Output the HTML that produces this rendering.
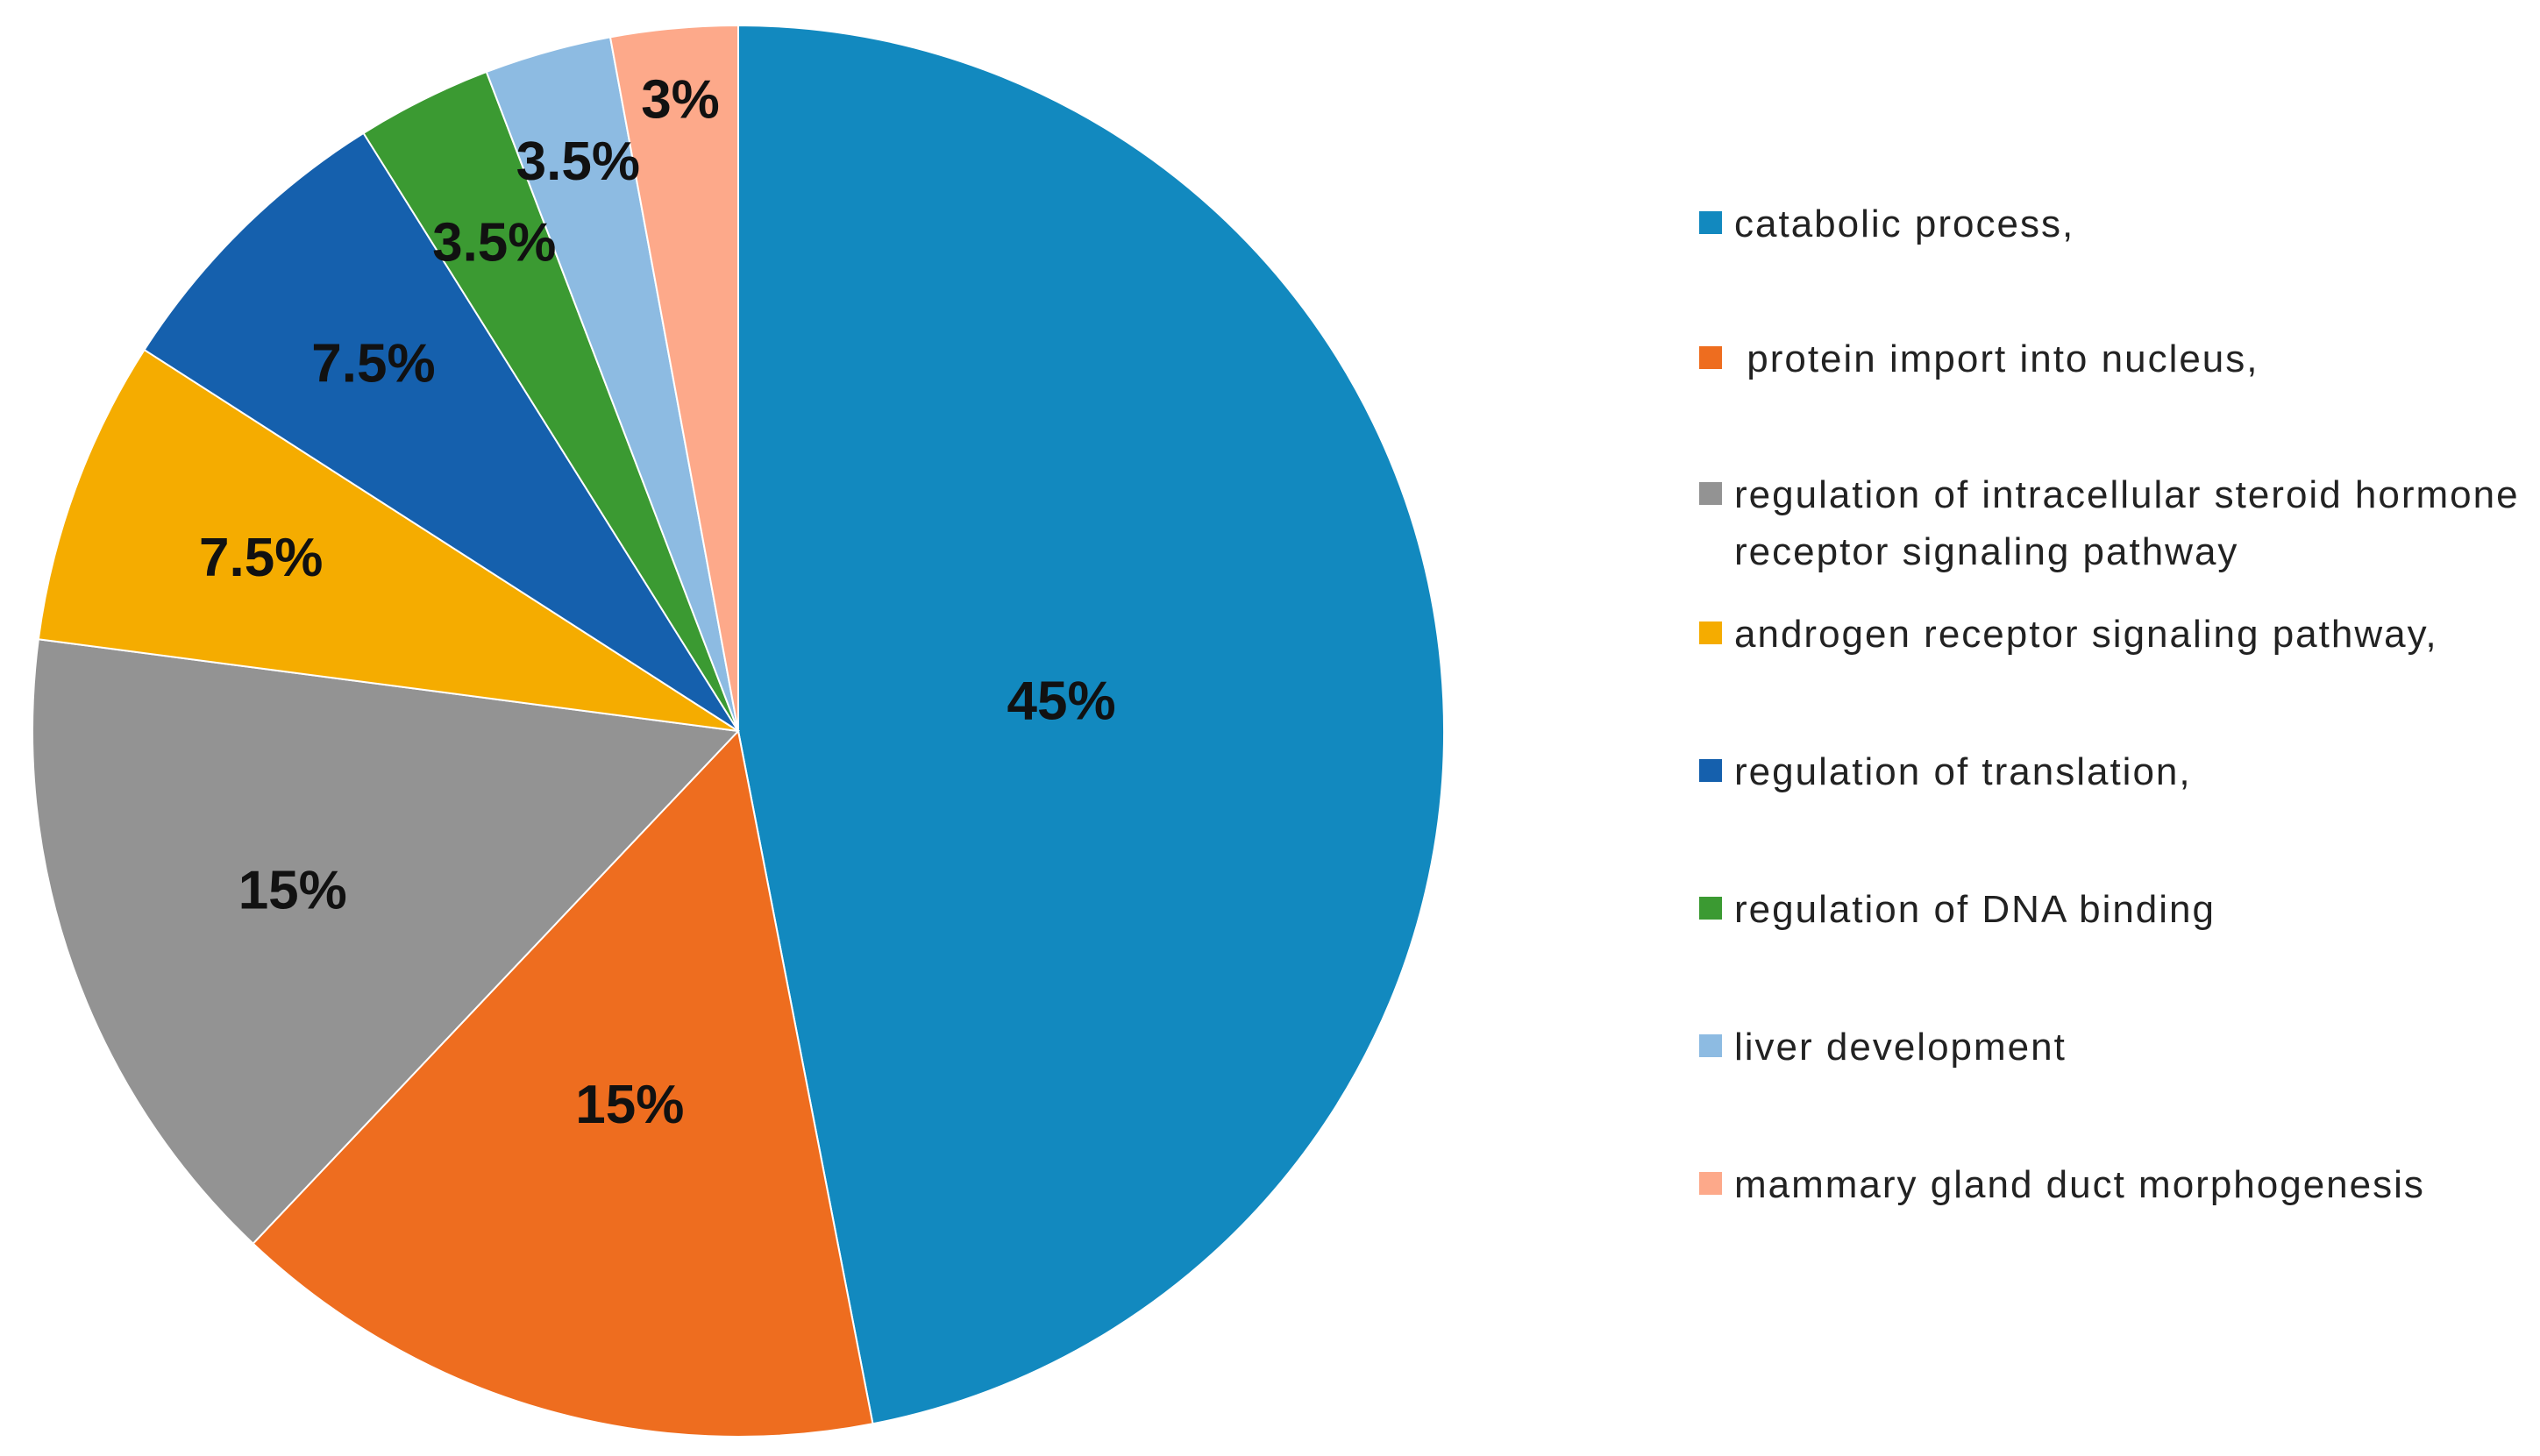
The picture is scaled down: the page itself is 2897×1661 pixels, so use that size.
<!DOCTYPE html>
<html><head><meta charset="utf-8"><style>
html,body{margin:0;padding:0;background:#fff;}
svg{display:block;}
text{white-space:pre;}
</style></head><body>
<svg id="chart" width="2897" height="1661" viewBox="0 0 2897 1661" xmlns="http://www.w3.org/2000/svg">
<rect x="0" y="0" width="2897" height="1661" fill="#fff"/>
<g id="slices"></g>
<g id="labels"></g>
<g id="legend"></g>
</svg>
<script>
const categories = ["catabolic process,", " protein import into nucleus,", "regulation of intracellular steroid hormone|receptor signaling pathway", "androgen receptor signaling pathway,", "regulation of translation,", "regulation of DNA binding", "liver development", "mammary gland duct morphogenesis"];
const values = [46.9, 15.1, 15, 7, 7, 3.1, 2.9, 2.9];
const valueLabels = ["45%", "15%", "15%", "7.5%", "7.5%", "3.5%", "3.5%", "3%"];
const colors = ["#1289BF", "#EE6D1F", "#939393", "#F5AC00", "#1560AD", "#3B9A32", "#8DBBE2", "#FDA98A"];
const labelRadius = [0.46, 0.55, 0.67, 0.72, 0.735, 0.775, 0.84, 0.9];

const NS = "http://www.w3.org/2000/svg";
const cx = 842, cy = 834, R = 805;
const total = values.reduce((a, b) => a + b, 0);
function angleOf(v) { return v / total * 2 * Math.PI; }
function pt(a, r) { return [cx + r * Math.sin(a), cy - r * Math.cos(a)]; }

const gS = document.getElementById("slices");
const gL = document.getElementById("labels");
const gG = document.getElementById("legend");
let acc = 0;
values.forEach((v, i) => {
  const a0 = angleOf(acc), a1 = angleOf(acc + v);
  acc += v;
  const p0 = pt(a0, R), p1 = pt(a1, R);
  const large = (a1 - a0) > Math.PI ? 1 : 0;
  const path = document.createElementNS(NS, "path");
  path.setAttribute("d", `M${cx},${cy} L${p0[0]},${p0[1]} A${R},${R} 0 ${large} 1 ${p1[0]},${p1[1]} Z`);
  path.setAttribute("fill", colors[i]);
  path.setAttribute("stroke", "#fff");
  path.setAttribute("stroke-width", "2");
  
  
  gS.appendChild(path);

  const am = (a0 + a1) / 2;
  const lp = pt(am, R * labelRadius[i]);
  const t = document.createElementNS(NS, "text");
  t.setAttribute("x", lp[0]);
  t.setAttribute("y", lp[1] + 22);
  t.setAttribute("text-anchor", "middle");
  t.setAttribute("font-family", "Liberation Sans, DejaVu Sans, sans-serif");
  t.setAttribute("font-weight", "bold");
  t.setAttribute("font-size", "62");
  t.setAttribute("fill", "#111");
  t.textContent = valueLabels[i];
  
  
  gL.appendChild(t);
});

const legendY = [254, 408, 563, 722, 879, 1036, 1193, 1350];
categories.forEach((c, i) => {
  const y = legendY[i];
  const sq = document.createElementNS(NS, "rect");
  sq.setAttribute("x", 1938);
  sq.setAttribute("y", y - 13);
  sq.setAttribute("width", 26);
  sq.setAttribute("height", 26);
  sq.setAttribute("fill", colors[i]);
  
  
  gG.appendChild(sq);
  c.split("|").forEach((line, j) => {
    const t = document.createElementNS(NS, "text");
    t.setAttribute("x", 1978);
    t.setAttribute("y", y + 16 + j * 65);
    t.setAttribute("font-family", "Liberation Sans, DejaVu Sans, sans-serif");
    t.setAttribute("font-size", "44");
    t.setAttribute("letter-spacing", "2");
    t.setAttribute("fill", "#222");
    t.textContent = line;
    
    
    gG.appendChild(t);
  });
});
</script>
</body></html>
